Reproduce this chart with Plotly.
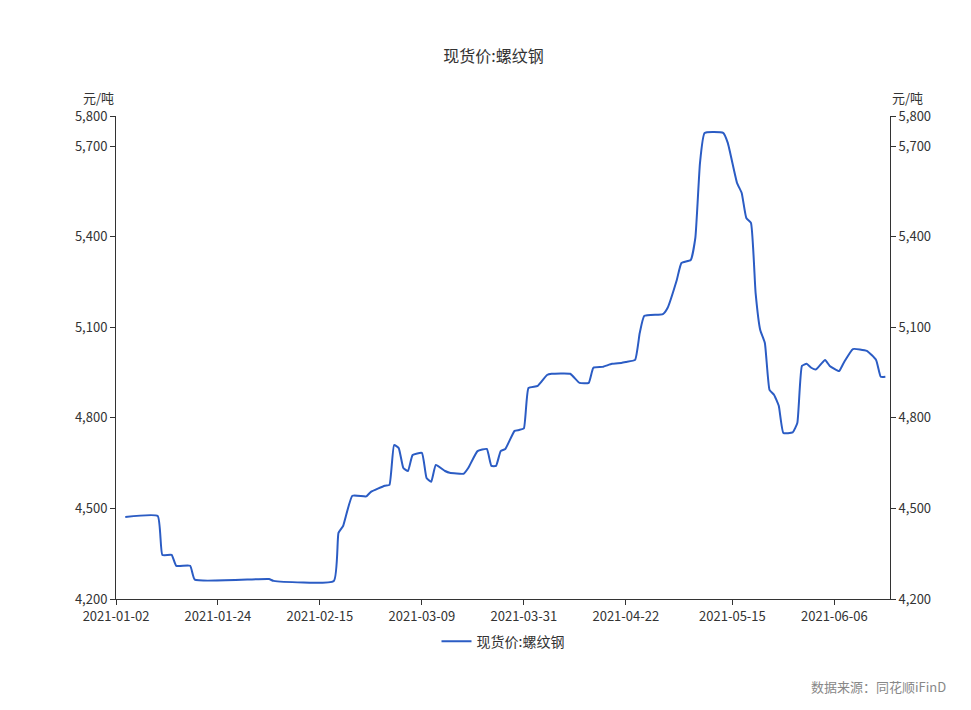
import plotly.graph_objects as go

dates = ["2021-01-04","2021-01-11","2021-01-12","2021-01-14","2021-01-15","2021-01-18","2021-01-19","2021-02-04","2021-02-05","2021-02-18",
"2021-02-19","2021-02-20","2021-02-22","2021-02-25","2021-02-26","2021-03-01","2021-03-02","2021-03-03","2021-03-04","2021-03-05",
"2021-03-06","2021-03-07","2021-03-09","2021-03-10","2021-03-11","2021-03-12","2021-03-14","2021-03-15","2021-03-18","2021-03-19",
"2021-03-21","2021-03-23","2021-03-24","2021-03-25","2021-03-26","2021-03-27","2021-03-29","2021-03-30","2021-03-31","2021-04-01",
"2021-04-03","2021-04-05","2021-04-06","2021-04-10","2021-04-12","2021-04-14","2021-04-15","2021-04-17","2021-04-19","2021-04-21",
"2021-04-22","2021-04-24","2021-04-25","2021-04-26","2021-04-30","2021-05-01","2021-05-03","2021-05-04","2021-05-06","2021-05-07",
"2021-05-08","2021-05-09","2021-05-13","2021-05-14","2021-05-16","2021-05-17","2021-05-18","2021-05-19","2021-05-20","2021-05-21",
"2021-05-22","2021-05-23","2021-05-24","2021-05-25","2021-05-26","2021-05-28","2021-05-29","2021-05-30","2021-05-31","2021-06-01",
"2021-06-02","2021-06-04","2021-06-05","2021-06-07","2021-06-08","2021-06-10","2021-06-13","2021-06-15","2021-06-16","2021-06-17"]
prices = [4472,4475,4346,4346,4310,4310,4264,4266,4260,4260,
4419,4442,4542,4540,4555,4575,4578,4710,4700,4634,
4624,4677,4684,4601,4588,4644,4624,4618,4615,4634,
4690,4697,4641,4641,4690,4697,4757,4760,4765,4899,
4906,4942,4946,4946,4916,4916,4966,4969,4979,4982,
4985,4992,5081,5138,5144,5164,5257,5313,5323,5396,
5644,5744,5744,5711,5578,5545,5462,5446,5214,5091,
5048,4893,4876,4840,4750,4752,4783,4972,4979,4966,
4960,4992,4972,4955,4982,5028,5022,4992,4936,4936]

tickvals = ["2021-01-02","2021-01-24","2021-02-15","2021-03-09","2021-03-31","2021-04-22","2021-05-15","2021-06-06"]
yticks = [4200,4500,4800,5100,5400,5700,5800]
name = "现货价:螺纹钢"
color = "#2b5cc4"

fig = go.Figure()
fig.add_trace(go.Scatter(x=dates, y=prices, mode="lines", name=name,
                         line=dict(color=color, width=2, shape="spline", smoothing=0.4)))
fig.add_trace(go.Scatter(x=dates, y=prices, mode="lines", yaxis="y2", showlegend=False,
                         line=dict(color="rgba(0,0,0,0)", width=0), hoverinfo="skip"))

axfmt = dict(range=[4200,5800], tickvals=yticks, tickformat=",", showgrid=False, zeroline=False,
             showline=True, linecolor="#333", ticks="outside", ticklen=5, tickcolor="#333")
fig.update_layout(
    width=971, height=710, plot_bgcolor="white", paper_bgcolor="white",
    font=dict(family="Noto Sans CJK SC", size=13, color="#333"),
    title=dict(text=name, x=0.5, y=0.94, xanchor="center", font=dict(size=16)),
    margin=dict(l=108, r=89, t=108, b=119, autoexpand=False),
    xaxis=dict(range=["2021-01-02","2021-06-18"], tickvals=tickvals, ticktext=tickvals,
               showgrid=False, showline=True, linecolor="#333", ticks="outside",
               ticklen=5, tickcolor="#333"),
    yaxis=axfmt,
    yaxis2=dict(overlaying="y", side="right", **axfmt),
    legend=dict(orientation="h", x=0.5, xanchor="center", y=-0.055, yanchor="top",
                font=dict(size=14), itemwidth=30),
    showlegend=True,
    annotations=[
        dict(text="元/吨", xref="paper", yref="paper", x=0, y=1.015, xanchor="right",
             yanchor="bottom", showarrow=False, font=dict(size=13)),
        dict(text="元/吨", xref="paper", yref="paper", x=1, y=1.015, xanchor="left",
             yanchor="bottom", showarrow=False, font=dict(size=13)),
        dict(text="数据来源：同花顺iFinD", xref="paper", yref="paper", x=1.075, y=-0.205,
             xanchor="right", yanchor="bottom", showarrow=False,
             font=dict(size=13, color="#888")),
    ],
)
fig.write_html("out.html")
